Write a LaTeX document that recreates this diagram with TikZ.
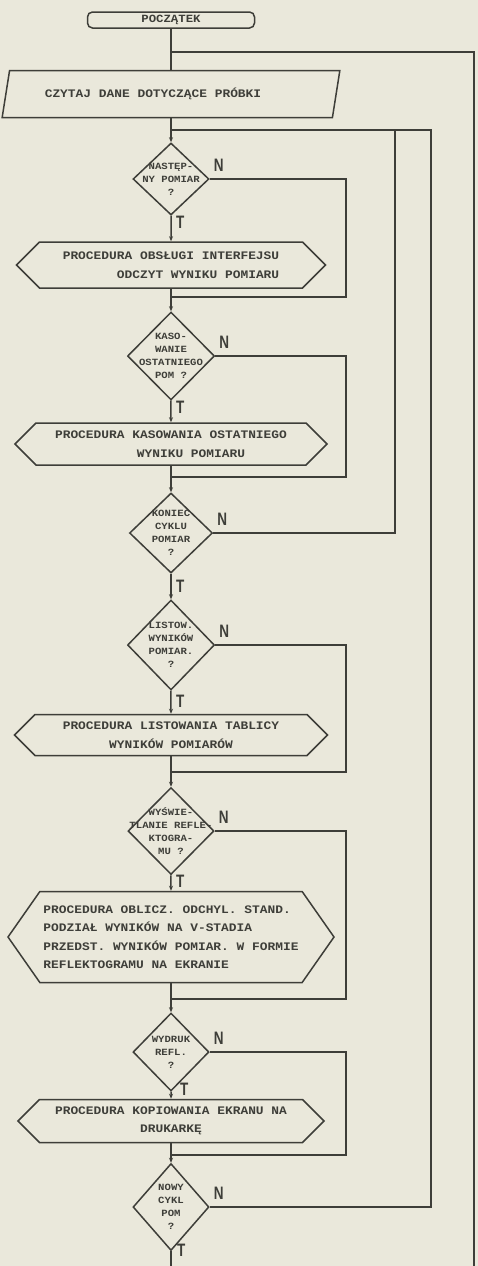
\documentclass[tikz,border=0pt]{standalone}
\usepackage{fontspec}
\newfontfamily\boxfont[FakeStretch=1.12]{Liberation Mono}
\newfontfamily\ntfont[FakeStretch=0.75]{Liberation Sans Bold}
\usetikzlibrary{shapes,positioning,arrows.meta}
\definecolor{paper}{RGB}{234,232,219}
\definecolor{ink}{RGB}{62,62,57}

\begin{document}
\begin{tikzpicture}[x=1pt,y=-1pt,
  flow/.style={draw=ink,line width=1.5pt},
  tip/.style={-{Stealth[length=5pt,width=4pt]}},
  term/.style={flow,rectangle,rounded corners=5pt,minimum width=167pt,minimum height=16pt,
    inner sep=0pt,text=ink,font=\boxfont\bfseries\fontsize{11}{11}\selectfont},
  inbox/.style={flow,trapezium,trapezium left angle=64,trapezium right angle=116,
    trapezium stretches=true,minimum width=338pt,minimum height=47pt,inner sep=0pt,
    text=ink,font=\boxfont\bfseries\fontsize{11.5}{11.5}\selectfont},
  proc/.style={flow,signal,signal to=west and east,signal pointer angle=90,inner sep=0pt,
    align=center,text=ink,font=\boxfont\bfseries\fontsize{11.5}{18.5}\selectfont},
  dec/.style={flow,diamond,inner sep=0pt},
  dtext/.style={align=center,inner sep=0pt,text=ink,
    font=\boxfont\bfseries\fontsize{9.5}{13}\selectfont},
  lab/.style={inner sep=0pt,text=ink,font=\ntfont\fontsize{18}{18}\selectfont}]
 \clip (0,0) rectangle (478,1266);
 \fill[paper] (0,0) rectangle (478,1266);
    % main column
    \node[term] (start) at (171,20) {POCZĄTEK};
    \coordinate (j0) at (171,52);
    \node[inbox] (read) at (171,94) {CZYTAJ DANE DOTYCZĄCE PRÓBKI\hspace*{36pt}};
    \coordinate (j1) at (171,130);
    \node[dec,minimum width=76pt,minimum height=72pt,
      label={[dtext]center:{NASTĘP-\\NY POMIAR\\?}}] (d1) at (171,179) {};
    \node[proc,minimum width=309pt,minimum height=46pt,align=right] (p1) at (171,265)
      {PROCEDURA OBSŁUGI INTERFEJSU\\ODCZYT WYNIKU POMIARU};
    \coordinate (j2) at (171,297);
    \node[dec,minimum width=87pt,minimum height=88pt,
      label={[dtext]center:{KASO-\\WANIE\\OSTATNIEGO\\POM ?}}] (d2) at (171,356) {};
    \node[proc,minimum width=312pt,minimum height=42pt] (p2) at (171,444)
      {PROCEDURA KASOWANIA OSTATNIEGO\\\hspace*{40pt}WYNIKU POMIARU};
    \coordinate (j3) at (171,477);
    \node[dec,minimum width=83pt,minimum height=80pt,
      label={[dtext]center:{KONIEC\\CYKLU\\POMIAR\\?}}] (d3) at (171,533) {};
    \node[dec,minimum width=87pt,minimum height=90pt,
      label={[dtext]center:{LISTOW.\\WYNIKÓW\\POMIAR.\\?}}] (d4) at (171,645) {};
    \node[proc,minimum width=313pt,minimum height=41pt] (p3) at (171,735)
      {PROCEDURA LISTOWANIA TABLICY\\WYNIKÓW POMIARÓW};
    \coordinate (j4) at (171,772);
    \node[dec,minimum width=86pt,minimum height=87pt,
      label={[dtext]center:{WYŚWIE-\\TLANIE REFLE-\\KTOGRA-\\MU ?}}] (d5) at (171,831) {};
    \node[proc,signal pointer angle=110,minimum width=326pt,minimum height=91pt,align=left]
      (p4) at (171,937)
      {PROCEDURA OBLICZ. ODCHYL. STAND.\\PODZIAŁ WYNIKÓW NA V-STADIA\\
       PRZEDST. WYNIKÓW POMIAR. W FORMIE\\REFLEKTOGRAMU NA EKRANIE};
    \coordinate (j5) at (171,999);
    \node[dec,minimum width=76pt,minimum height=78pt,
      label={[dtext]center:{WYDRUK\\REFL.\\?}}] (d6) at (171,1052) {};
    \node[proc,minimum width=306pt,minimum height=43pt] (p5) at (171,1121)
      {PROCEDURA KOPIOWANIA EKRANU NA\\DRUKARKĘ};
    \coordinate (j6) at (171,1155);
    \node[dec,minimum width=76pt,minimum height=87pt,
      label={[dtext]center:{NOWY\\CYKL\\POM\\?}}] (d7) at (171,1207) {};
    \coordinate (j7) at (171,1290);
    % columns of the side lines
    \coordinate (bx) at (346,0);
    \coordinate (ax) at (395,0);
    \coordinate (cx) at (431,0);
    \coordinate (ox) at (474,0);
    % connectors
    \draw[flow] (start) -- (j0) -- (read);
    \draw[flow,tip] (read) -- (j1) -- (d1);
    \foreach \a/\b in {d1/p1,d2/p2,d3/d4,d4/p3,d5/p4,d6/p5}
      \draw[flow,tip] (\a) -- (\b);
    \foreach \a/\j/\b in {p1/j2/d2,p2/j3/d3,p3/j4/d5,p4/j5/d6,p5/j6/d7}
      \draw[flow,tip] (\a) -- (\j) -- (\b);
    % N branches skipping a procedure
    \foreach \d/\j in {d1/j2,d2/j3,d4/j4,d5/j5,d6/j6}
      \draw[flow] (\d.east) -- (\d.east -| bx) |- (\j);
    % loops back
    \draw[flow] (d3.east) -- (d3.east -| ax) |- (j1);
    \draw[flow] (d7.east) -- (d7.east -| cx) |- (j1);
    \draw[flow] (d7) -- (j7) -| (ox |- j0) -- (j0);
    % N / T marks
    \foreach \d/\o/\s in {d1/0/5,d2/0/5,d3/6/5,d4/4/5,d5/0/5,d6/-9/9,d7/-7/6}{
      \node[lab,above right=7pt and 4pt of \d.east] (n\d) {N};
      \node[lab,below right=\o pt and \s pt of \d.south] (t\d) {T};
    }
  \end{tikzpicture}
\end{document}
